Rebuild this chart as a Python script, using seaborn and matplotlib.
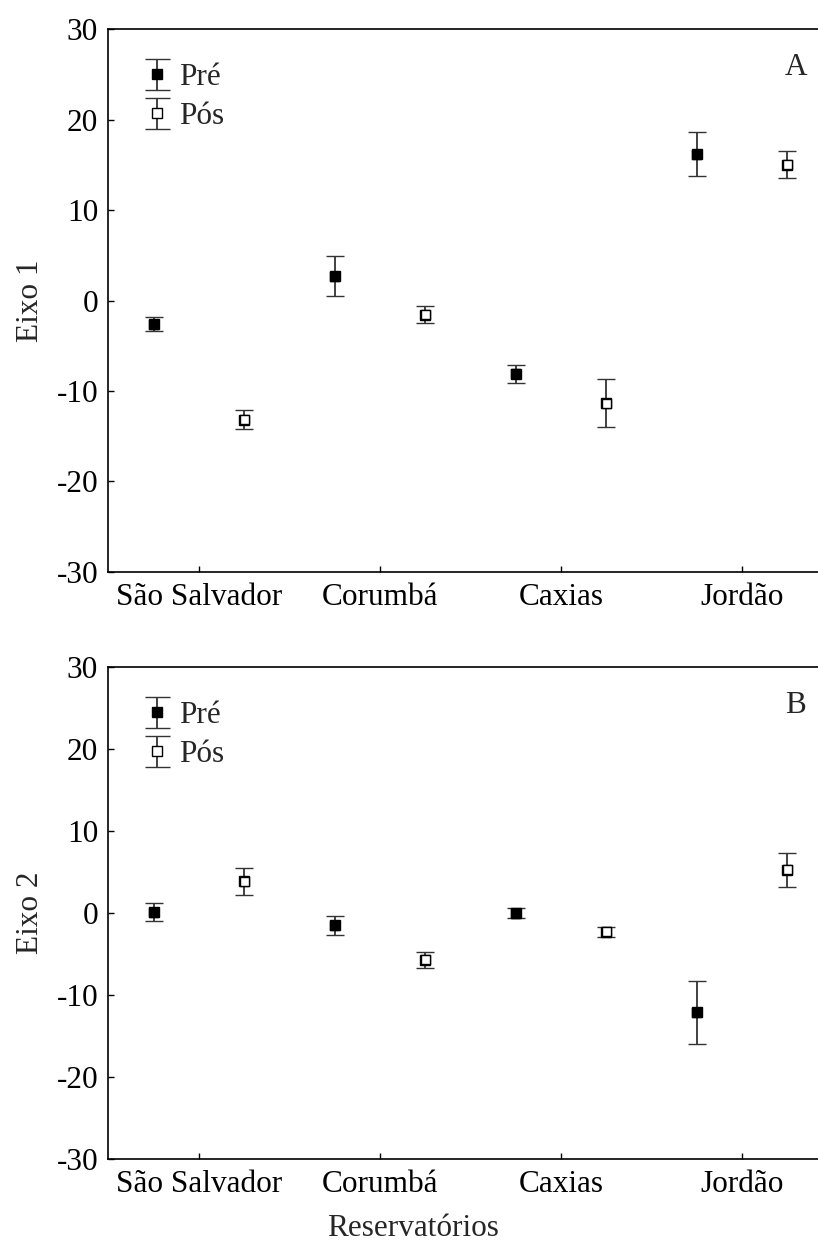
import numpy as np
import pandas as pd
import seaborn as sns
import matplotlib.pyplot as plt
from matplotlib.legend_handler import HandlerErrorbar

# dados (media e erro)
reservatorios = ['São Salvador', 'Corumbá', 'Caxias', 'Jordão']
periodos = ['Pré', 'Pós']

eixo1_pre = [-2.6, 2.7, -8.1, 16.2]
eixo1_pre_err = [0.8, 2.25, 1.0, 2.45]
eixo1_pos = [-13.2, -1.55, -11.35, 15.0]
eixo1_pos_err = [1.05, 0.95, 2.65, 1.5]

eixo2_pre = [0.1, -1.47, 0.0, -12.1]
eixo2_pre_err = [1.08, 1.14, 0.6, 3.88]
eixo2_pos = [3.9, -5.7, -2.3, 5.3]
eixo2_pos_err = [1.67, 0.94, 0.67, 2.06]

yticks = [-30, -20, -10, 0, 10, 20, 30]


def monta(pre, pre_err, pos, pos_err):
    df = pd.DataFrame({
        'Reservatório': reservatorios * 2,
        'Período': ['Pré'] * 4 + ['Pós'] * 4,
        'media': pre + pos,
        'erro': pre_err + pos_err,
    })
    cod = df['Reservatório'].map({r: i for i, r in enumerate(reservatorios)})
    df['x'] = cod + df['Período'].map({'Pré': -0.25, 'Pós': 0.25})
    return df


dfA = monta(eixo1_pre, eixo1_pre_err, eixo1_pos, eixo1_pos_err)
dfB = monta(eixo2_pre, eixo2_pre_err, eixo2_pos, eixo2_pos_err)

sns.set_theme(style='ticks')
plt.rcParams['font.family'] = ['Liberation Serif', 'DejaVu Serif']
plt.rcParams['axes.unicode_minus'] = False
FS = 22.5

W, H = 818, 1255
fig = plt.figure(figsize=(W / 100, H / 100), dpi=100)

# posicoes dos eixos em pixels (esq, topo, base)
left, right = 108.5, 832.5
paineis = [(dfA, 'Eixo 1', 'A', 29.3, 571.7),
           (dfB, 'Eixo 2', 'B', 667.3, 1159.0)]

cores = {'Pré': 'black', 'Pós': 'white'}


def upd(h, orig):
    h.update_from(orig)
    if hasattr(h, 'get_marker') and h.get_marker() == '_':
        h.set_markersize(18)


for df, ylab, letra, top, bot in paineis:
    ax = fig.add_axes([left / W, 1 - bot / H, (right - left) / W, (bot - top) / H])
    hpx = bot - top
    for p in periodos:
        d = df[df['Período'] == p]
        ax.errorbar(d['x'], d['media'], yerr=d['erro'], fmt='s', ms=6.5,
                    mfc=cores[p], mec='black', mew=1.0, ecolor='#333333',
                    elinewidth=1.3, capsize=6.4, capthick=1.3, label=p,
                    zorder=2)
    sns.scatterplot(data=df, x='x', y='media', hue='Período', palette=cores,
                    marker='s', s=42, edgecolor='black', linewidth=1.0,
                    legend=False, ax=ax, zorder=3)
    ax.set_xlim(-0.5, 3.5)
    ax.set_ylim(-30, 30)
    ax.set_yticks(yticks)
    ax.set_xticks(range(len(reservatorios)))
    ax.set_xticklabels(reservatorios)
    ax.set_xlabel('')
    ax.set_ylabel(ylab, va='center', fontsize=FS)
    ax.yaxis.set_label_coords((31 - left) / (right - left), 0.5)
    ax.tick_params(direction='in', length=4, width=1, colors='black',
                   labelsize=FS)
    ax.tick_params(axis='x', pad=8)
    ax.tick_params(axis='y', pad=7.5)
    for s in ax.spines.values():
        s.set_linewidth(1.2)
        s.set_color('black')
    ax.grid(False)

    ax.legend(loc='upper left',
              bbox_to_anchor=((138 - left) / (right - left), 1 - 34 / hpx),
              frameon=False, borderpad=0, borderaxespad=0,
              handlelength=1.2, handletextpad=0.1, labelspacing=0.32,
              numpoints=1, fontsize=FS,
              handler_map={type(ax.containers[0]): HandlerErrorbar(update_func=upd)})

    ax.annotate(letra, xy=((796 - left) / (right - left), 1),
                xycoords='axes fraction', xytext=(0, -38),
                textcoords='offset pixels', ha='center', va='center',
                fontsize=FS)

fig.text(413 / W, 1 - 1228 / H, 'Reservatórios', ha='center', va='center',
         fontsize=FS)

fig.savefig('out.png', dpi=100, facecolor='white')
